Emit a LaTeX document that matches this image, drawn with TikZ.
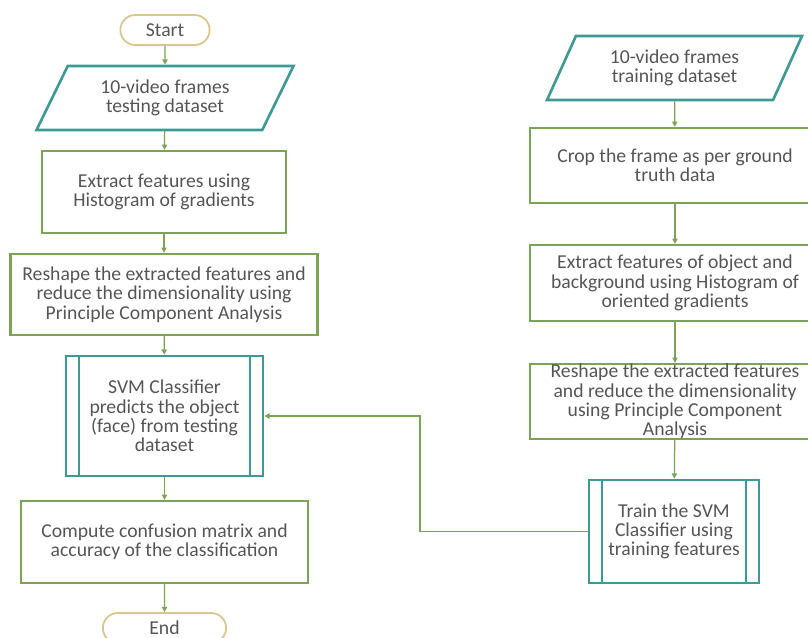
\documentclass[tikz,border=0pt]{standalone}
\usepackage{fontspec}
\setmainfont{Carlito}
\usetikzlibrary{shapes.geometric,shapes.misc,arrows.meta}
\definecolor{boxgreen}{HTML}{7BA456}
\definecolor{boxteal}{HTML}{3E9A96}
\definecolor{termtan}{HTML}{D8C68C}
\definecolor{txtgray}{HTML}{555555}

\begin{document}
\begin{tikzpicture}[x=0.02cm, y=-0.02cm, font=\fontsize{11.2}{11}\selectfont, text=txtgray,
  terminal/.style={draw=termtan, line width=1pt, rounded rectangle, minimum width=2.02cm, minimum height=0.6cm},
  dataset/.style={draw=boxteal, line width=1.5pt, trapezium, trapezium left angle=57, trapezium right angle=123, trapezium stretches body, minimum width=5.14cm, minimum height=1.28cm, align=center},
  process/.style={draw=boxgreen, line width=1.3pt, align=center, inner ysep=0pt},
  subproc/.style={draw=boxteal, line width=1.5pt, align=center, path picture={
    \draw[boxteal, line width=1.5pt] ([xshift=0.26cm]path picture bounding box.north west) -- ([xshift=0.26cm]path picture bounding box.south west)
      ([xshift=-0.26cm]path picture bounding box.north east) -- ([xshift=-0.26cm]path picture bounding box.south east);}},
  flow/.style={draw=boxgreen, line width=0.7pt, -{Triangle[length=3pt,width=3pt]}}]
  \useasboundingbox (0,0) rectangle (808,637);
  \node[terminal] (start) at (165,30) {Start};
  \node[dataset] (testdata) at (165,98) {10-video frames\\testing dataset};
  \node[process, minimum width=4.88cm, minimum height=1.64cm] (hog) at (164,192) {Extract features using\\Histogram of gradients};
  \node[process, minimum width=6.14cm, minimum height=1.62cm] (pca) at (164,294.5) {Reshape the extracted features and\\reduce the dimensionality using\\Principle Component Analysis};
  \node[subproc, minimum width=3.94cm, minimum height=2.4cm] (predict) at (164.5,416) {SVM Classifier\\predicts the object\\(face) from testing\\dataset};
  \node[process, minimum width=5.74cm, minimum height=1.64cm] (confusion) at (164.5,542) {Compute confusion matrix and\\accuracy of the classification};
  \node[terminal, minimum width=2.7cm] (end) at (164.5,628) {End};

  \node[dataset, trapezium left angle=59, trapezium right angle=121, minimum width=5.1cm] (traindata) at (674.5,68) {10-video frames\\training dataset};
  \node[process, minimum width=5.8cm, minimum height=1.5cm] (crop) at (675,165.5) {Crop the frame as per ground\\truth data};
  \node[process, minimum width=5.8cm, minimum height=1.52cm] (hog2) at (675,283) {Extract features of object and\\background using Histogram of\\oriented gradients};
  \node[process, minimum width=5.8cm, minimum height=1.5cm, inner ysep=-2pt] (pca2) at (675,401.5) {Reshape the extracted features\\and reduce the dimensionality\\using Principle Component\\Analysis};
  \node[subproc, minimum width=3.4cm, minimum height=2.06cm] (train) at (674,531.5) {Train the SVM\\Classifier using\\training features};
  \coordinate (bend) at (420,531.5);

  \draw[flow] (start) -- (testdata);
  \draw[flow] (testdata) -- (hog);
  \draw[flow] (hog) -- (pca);
  \draw[flow] (pca) -- (predict);
  \draw[flow] (predict) -- (confusion);
  \draw[flow] (confusion) -- (end);
  \draw[flow] (traindata) -- (crop);
  \draw[flow] (crop) -- (hog2);
  \draw[flow] (hog2) -- (pca2);
  \draw[flow] (pca2) -- (train);
  \draw[flow] (train.west) -- (bend) |- (predict.east);
\end{tikzpicture}
\end{document}
